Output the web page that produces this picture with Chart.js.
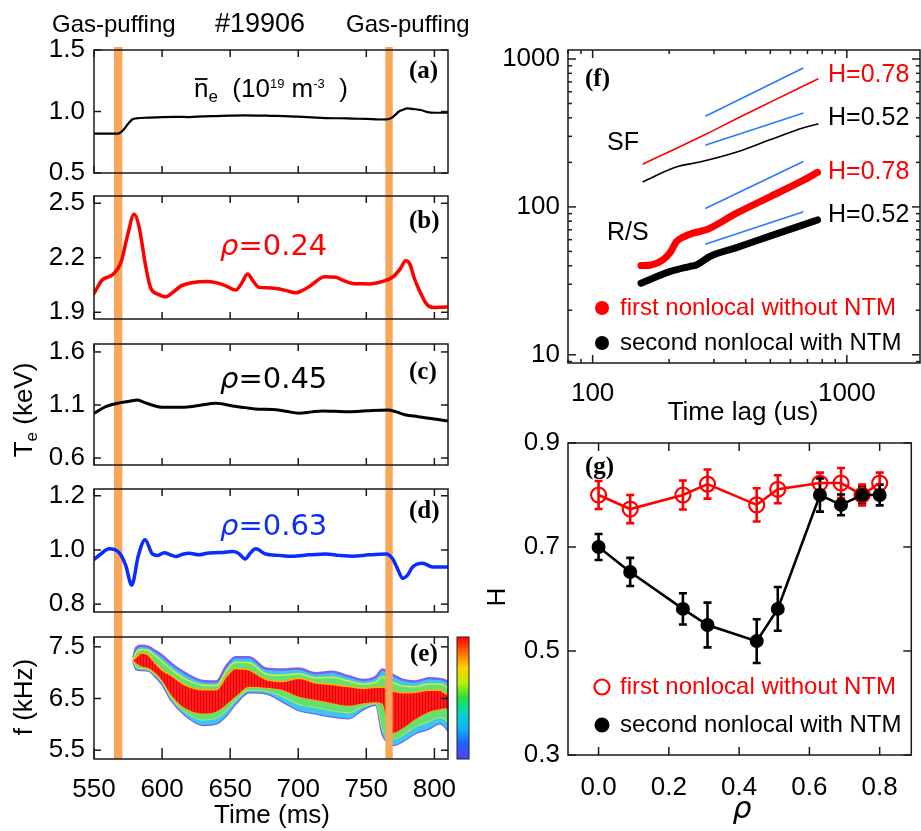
<!DOCTYPE html>
<html>
<head>
<meta charset="utf-8">
<title>#19906 nonlocal transport</title>
<script src="https://cdn.jsdelivr.net/npm/chart.js@4.4.1/dist/chart.umd.min.js"></script>
<style>
  html,body{margin:0;padding:0;background:#fff}
  #fig{position:relative;width:921px;height:831px;overflow:hidden;background:#fff}
  #fig canvas{position:absolute}
</style>
</head>
<body>
<div id="fig">
  <canvas id="pa" width="480" height="184" style="left:0;top:0"></canvas>
  <canvas id="pb" width="480" height="147" style="left:0;top:184px"></canvas>
  <canvas id="pc" width="480" height="146" style="left:0;top:331px"></canvas>
  <canvas id="pd" width="480" height="147" style="left:0;top:477px"></canvas>
  <canvas id="pe" width="480" height="207" style="left:0;top:624px"></canvas>
  <canvas id="pf" width="451" height="425" style="left:470px;top:0"></canvas>
  <canvas id="pg" width="451" height="406" style="left:470px;top:425px"></canvas>
</div>
<script>
const SANS = '"Liberation Sans", Arial, Helvetica, sans-serif';
const DEJAVU = '"DejaVu Sans", sans-serif';
const SERIF = '"Liberation Serif", "Times New Roman", serif';
const RED = '#ff0000', BLUE = '#0a2cff', FITBLUE = '#2a78ff', ORANGE = '#f7a65a';

// ---- left column: time traces, shot #19906 ----
const timeTicks = [550, 600, 650, 700, 750, 800];
const puffWindows = [[564.7, 570.8], [764.0, 769.4]];

// (a) line-averaged density
const neTime = [550,556,562,566,569,572,575,578,582,590,600,610,620,630,640,650,660,670,680,690,700,710,720,730,740,750,760,765,768,771,774,777,780,785,790,795,800,810];
const neVal  = [0.82,0.82,0.82,0.82,0.826,0.855,0.9,0.935,0.945,0.95,0.955,0.957,0.955,0.96,0.963,0.966,0.968,0.967,0.965,0.963,0.958,0.952,0.946,0.945,0.942,0.94,0.935,0.936,0.945,0.97,1.0,1.015,1.026,1.02,1.012,0.995,0.99,0.99];
const neTicks = [0.5, 1.0, 1.5];

// (b) Te at rho = 0.24
const bTime = [550,556,563.5,569.6,574.5,579.4,583,588,591.7,597,602.7,608,613.7,620,627,633,639.5,647,654,658.5,662.7,667,671.3,677,683.6,691,698.3,703,708,714,719,727.7,733,739.9,746,752,762,769.4,775,779,782,785,789,794,799,805,810];
const bVal  = [2.004,2.078,2.106,2.17,2.318,2.439,2.374,2.152,2.032,2.0,1.985,2.01,2.044,2.06,2.068,2.07,2.063,2.045,2.022,2.06,2.111,2.07,2.037,2.035,2.031,2.02,2.007,2.02,2.041,2.075,2.096,2.093,2.075,2.059,2.057,2.056,2.07,2.093,2.14,2.183,2.165,2.093,2.02,1.948,1.926,1.928,1.93];
const bTicks = [1.9, 2.2, 2.5];

// (c) Te at rho = 0.45
const cTime = [550,558.6,569.6,576,581.8,586,590.4,600.2,615,627,639.5,651.7,661,671.3,681,691,700.7,710,717.8,727,737.5,750,765.7,772,779,788,796,808.6,810];
const cVal  = [1.022,1.084,1.122,1.135,1.147,1.13,1.109,1.078,1.078,1.095,1.116,1.091,1.075,1.059,1.058,1.04,1.022,1.035,1.043,1.04,1.037,1.045,1.053,1.035,1.006,0.99,0.974,0.952,0.95];
const cTicks = [0.6, 1.1, 1.6];

// (d) Te at rho = 0.63
const dTime = [550,555,561,568.4,573.3,577.7,582.6,587.5,592.9,597,601.5,606,610,615,619.9,627,633,639.5,645,651.7,656,661,665,668.9,676,686,695.8,708,720.2,730,740,752,764.5,769.4,773,776.7,780,784,791.4,798.7,808.6,810];
const dVal  = [0.965,0.985,1.004,0.99,0.943,0.87,0.98,1.038,0.985,0.98,0.99,0.982,0.976,0.984,0.988,0.982,0.988,0.99,0.991,0.994,0.988,0.967,0.99,1.004,0.985,0.98,0.977,0.982,0.985,0.98,0.977,0.982,0.985,0.967,0.93,0.895,0.905,0.937,0.951,0.937,0.937,0.937];
const dTicks = [0.8, 1.0, 1.2];

// (e) mode frequency contour levels (kHz): outer edge, middle level, core
const eTime  = [579,581,585,590,595,600,607,617,630,640,647,654,664,676,688,700,713,725,737,748,757,762,766,770,777,786,796,804,808,810];
const outUp  = [7.30,7.48,7.52,7.50,7.42,7.33,7.17,6.99,6.84,6.83,7.12,7.30,7.30,7.08,7.06,7.08,6.99,7.02,6.93,6.86,6.92,7.06,7.00,6.95,6.86,6.83,6.89,6.88,6.85,6.82];
const outLo  = [7.22,7.07,7.05,7.04,6.93,6.78,6.46,6.18,5.99,6.02,6.17,6.40,6.62,6.60,6.45,6.28,6.21,6.15,6.12,6.30,6.38,5.80,5.65,5.60,5.68,5.83,5.92,6.02,5.95,5.88];
const midUp  = [7.28,7.40,7.45,7.43,7.33,7.22,7.06,6.88,6.76,6.75,7.03,7.20,7.19,6.98,6.95,6.98,6.90,6.91,6.84,6.78,6.82,6.92,6.86,6.81,6.74,6.73,6.78,6.78,6.74,6.70];
const midLo  = [7.23,7.12,7.08,7.06,6.97,6.83,6.51,6.24,6.09,6.13,6.27,6.47,6.67,6.65,6.55,6.40,6.33,6.27,6.23,6.36,6.41,5.90,5.76,5.72,5.80,5.96,6.06,6.14,6.10,6.05];
const coreUp = [7.26,7.30,7.38,7.34,7.18,7.05,6.94,6.76,6.67,6.67,6.92,7.08,7.05,6.87,6.83,6.89,6.80,6.77,6.73,6.70,6.72,6.72,6.67,6.64,6.61,6.62,6.66,6.66,6.60,6.57];
const coreLo = [7.24,7.18,7.12,7.09,7.00,6.85,6.56,6.31,6.21,6.25,6.38,6.54,6.73,6.71,6.67,6.54,6.47,6.41,6.36,6.41,6.43,6.40,5.95,5.84,5.93,6.10,6.24,6.29,6.31,6.30];
const eTicks = [5.5, 6.5, 7.5];

// ---- (f) structure function and R/S vs time lag ----
const lagTicks = [100, 1000];
const lagMinor = [80, 90, 200, 300, 400, 500, 600, 700, 800, 900];
const fTicks = [10, 100, 1000];
const fMinor = [9, 20, 30, 40, 50, 60, 70, 80, 90, 200, 300, 400, 500, 600, 700, 800, 900];
const sfRedLag = [158, 201, 280, 368, 498, 769];
const sfRedVal = [195, 237, 311, 394, 509, 733];
const sfBlackLag = [158, 213, 264, 369, 498, 671, 769];
const sfBlackVal = [148, 186, 201, 235, 284, 342, 363];
const rsRedLag = [155, 170, 189, 201, 214, 227, 248, 280, 368, 498, 673, 767];
const rsRedVal = [40.1, 40.5, 43.9, 48.6, 58.3, 62.4, 66.4, 70.0, 90.6, 117, 151, 171];
const rsBlackLag = [155, 201, 240, 256, 289, 368, 498, 673, 767];
const rsBlackVal = [30.5, 36.5, 39.5, 40.5, 46.2, 53, 63.4, 75.5, 81.6];
const fitLag = [279, 671];
const fitSfRed = [412, 865];
const fitSfBlack = [262, 430];
const fitRsRed = [98, 202];
const fitRsBlack = [56.2, 92.5];

// ---- (g) Hurst exponent profile ----
const rhoTicks = [0.0, 0.2, 0.4, 0.6, 0.8];
const hTicks = [0.3, 0.5, 0.7, 0.9];
const rhoRed = [0.0, 0.09, 0.24, 0.31, 0.45, 0.51, 0.63, 0.69, 0.75, 0.80];
const hRed = [0.80, 0.773, 0.80, 0.821, 0.781, 0.811, 0.823, 0.823, 0.80, 0.823];
const hRedErr = [0.027, 0.027, 0.028, 0.028, 0.032, 0.027, 0.02, 0.029, 0.02, 0.02];
const rhoBlack = [0.0, 0.09, 0.24, 0.31, 0.45, 0.51, 0.63, 0.69, 0.75, 0.80];
const hBlack = [0.70, 0.652, 0.581, 0.55, 0.519, 0.581, 0.80, 0.781, 0.80, 0.80];
const hBlackErr = [0.025, 0.027, 0.03, 0.043, 0.042, 0.042, 0.032, 0.02, 0.015, 0.02];

const xy = (xs, ys) => xs.map((x, i) => ({ x, y: ys[i] }));
const zeroPad = s => { s.paddingTop = s.paddingBottom = s.paddingLeft = s.paddingRight = 0; };
const setTicks = vals => s => { s.ticks = vals.map(v => ({ value: v })); };

// rich text: list of parts drawn left to right, optional rotation about (x,y)
function text(ctx, it) {
  const parts = it.parts || [{ t: it.t }];
  ctx.save();
  ctx.translate(it.x, it.y);
  if (it.rot) ctx.rotate(it.rot);
  ctx.textBaseline = 'middle';
  ctx.textAlign = 'left';
  let w = 0;
  parts.forEach(p => { ctx.font = p.font || it.font; p.w = ctx.measureText(p.t).width; w += p.w; });
  let cx = it.align === 'center' ? -w / 2 : it.align === 'right' ? -w : 0;
  parts.forEach(p => {
    ctx.font = p.font || it.font;
    ctx.fillStyle = p.color || it.color || '#000';
    ctx.fillText(p.t, cx, p.dy || 0);
    if (p.bar) {
      ctx.strokeStyle = ctx.fillStyle; ctx.lineWidth = 1.8;
      ctx.beginPath(); ctx.moveTo(cx + 1, p.bar); ctx.lineTo(cx + p.w - 1, p.bar); ctx.stroke();
    }
    cx += p.w;
  });
  ctx.restore();
}

function dot(ctx, x, y, r, color, open) {
  ctx.save();
  ctx.beginPath(); ctx.arc(x, y, r, 0, Math.PI * 2);
  if (open) { ctx.strokeStyle = color; ctx.lineWidth = 2.2; ctx.stroke(); }
  else { ctx.fillStyle = color; ctx.fill(); }
  ctx.restore();
}

// box round the plot area with inward ticks on all four sides
const frame = o => ({
  id: 'frame',
  afterDraw(chart) {
    const { ctx, chartArea: a, scales: { x, y } } = chart;
    ctx.save();
    ctx.strokeStyle = '#1a1a1a';
    ctx.lineWidth = 1.5;
    const seg = (x0, y0, x1, y1) => { ctx.beginPath(); ctx.moveTo(x0, y0); ctx.lineTo(x1, y1); ctx.stroke(); };
    const xs = (vals, lb, lt) => vals.forEach(v => {
      const p = x.getPixelForValue(v);
      if (p < a.left - 1 || p > a.right + 1) return;
      seg(p, a.bottom, p, a.bottom - lb); seg(p, a.top, p, a.top + lt);
    });
    const ys = (vals, l) => vals.forEach(v => {
      const p = y.getPixelForValue(v);
      if (p < a.top - 1 || p > a.bottom + 1) return;
      seg(a.left, p, a.left + l, p); seg(a.right, p, a.right - l, p);
    });
    xs(o.xTicks, o.lenB || 7, o.lenT || 7);
    ys(o.yTicks, o.len || 7);
    if (o.xMinor) xs(o.xMinor, 4, 4);
    if (o.yMinor) ys(o.yMinor, 4);
    ctx.strokeRect(a.left, a.top, a.right - a.left, a.bottom - a.top);
    ctx.restore();
  }
});

// gas-puffing windows, drawn through the panel and the gaps between panels
const puff = o => {
  const draw = chart => {
    const { ctx, chartArea: a, scales: { x } } = chart;
    const top = o.top || 0;
    const bottom = o.toArea ? a.bottom : chart.height;
    ctx.save();
    ctx.fillStyle = ORANGE;
    puffWindows.forEach(([t0, t1]) => {
      const x0 = x.getPixelForValue(t0), x1 = x.getPixelForValue(t1);
      ctx.fillRect(x0, top, x1 - x0, bottom - top);
    });
    ctx.restore();
  };
  return {
    id: 'puff',
    beforeDatasetsDraw(chart) { if (!o.onTop) draw(chart); },
    afterDatasetsDraw(chart) { if (o.onTop) draw(chart); }
  };
};

const deco = fn => ({ id: 'deco', afterDraw(chart) { fn(chart.ctx, chart); } });

const tickFont = { family: SANS, size: 26 };
const panelTag = (ctx, s, x, y) => text(ctx, { t: s, x, y, font: 'bold 25px ' + SERIF });
const rhoLabel = (ctx, val, x, y, color) => text(ctx, {
  x, y, color, parts: [
    { t: 'ρ', font: 'oblique 29px ' + DEJAVU },
    { t: '=' + val, font: '29px ' + DEJAVU }
  ]
});

function timePanel(id, cfg) {
  return new Chart(document.getElementById(id), {
    type: 'line',
    data: { datasets: cfg.datasets },
    options: {
      responsive: false, animation: false, devicePixelRatio: 1,
      layout: { padding: { top: cfg.top, bottom: cfg.bottom || 0, left: 0, right: 32 } },
      plugins: { legend: { display: false }, tooltip: { enabled: false } },
      elements: {
        point: { radius: 0 },
        line: { cubicInterpolationMode: 'monotone', borderCapStyle: 'round', borderJoinStyle: 'round' }
      },
      scales: {
        x: {
          type: 'linear', min: 550, max: 810,
          afterBuildTicks: setTicks(timeTicks),
          afterFit: s => { s.height = cfg.xAxisH || 0; zeroPad(s); },
          ticks: { display: !!cfg.xAxisH, font: tickFont, color: '#000', padding: 15, maxRotation: 0, autoSkip: false },
          grid: { display: false, drawTicks: false }, border: { display: false }
        },
        y: {
          type: 'linear', min: cfg.yMin, max: cfg.yMax,
          afterBuildTicks: setTicks(cfg.yTicks),
          afterFit: s => { s.width = 94; zeroPad(s); },
          ticks: { font: tickFont, color: '#000', padding: 9, callback: v => v.toFixed(1) },
          grid: { display: false, drawTicks: false }, border: { display: false }
        }
      }
    },
    plugins: [puff(cfg.puff), frame({ xTicks: timeTicks, yTicks: cfg.yTicks, lenB: cfg.lenB, len: 7 }), deco(cfg.deco)]
  });
}

// (a)
timePanel('pa', {
  top: 50, bottom: 11, yMin: 0.5, yMax: 1.5, yTicks: neTicks,
  puff: { top: 47 },
  datasets: [{ data: xy(neTime, neVal), borderColor: '#000', borderWidth: 2.2 }],
  deco: ctx => {
    text(ctx, { t: 'Gas-puffing', x: 52, y: 25, font: '24px ' + SANS });
    text(ctx, { t: '#19906', x: 260, y: 25, align: 'center', font: '27px ' + SANS });
    text(ctx, { t: 'Gas-puffing', x: 346, y: 25, font: '24px ' + SANS });
    text(ctx, {
      x: 194, y: 90, font: '26px ' + SANS, parts: [
        { t: 'n', bar: -11 },
        { t: 'e', font: '17px ' + SANS, dy: 7 },
        { t: '  (10' },
        { t: '19', font: '13px ' + SANS, dy: -6 },
        { t: ' m' },
        { t: '-3', font: '13px ' + SANS, dy: -6 },
        { t: '  )' }
      ]
    });
    panelTag(ctx, '(a)', 409, 72);
  }
});

// (b)
timePanel('pb', {
  top: 12, bottom: 12, yMin: 1.863, yMax: 2.54, yTicks: bTicks,
  puff: {},
  datasets: [{ data: xy(bTime, bVal), borderColor: RED, borderWidth: 3.5 }],
  deco: ctx => { rhoLabel(ctx, '0.24', 220, 63, RED); panelTag(ctx, '(b)', 409, 38); }
});

// (c)
timePanel('pc', {
  top: 13, bottom: 12, yMin: 0.534, yMax: 1.675, yTicks: cTicks,
  puff: {},
  datasets: [{ data: xy(cTime, cVal), borderColor: '#000', borderWidth: 3 }],
  deco: ctx => {
    rhoLabel(ctx, '0.45', 220, 49, '#000');
    panelTag(ctx, '(c)', 409, 42);
    text(ctx, {
      x: 25, y: 79, rot: -Math.PI / 2, align: 'center', font: '26px ' + SANS, parts: [
        { t: 'T' }, { t: 'e', font: '17px ' + SANS, dy: 7 }, { t: ' (keV)' }
      ]
    });
  }
});

// (d)
timePanel('pd', {
  top: 12, bottom: 12, yMin: 0.771, yMax: 1.225, yTicks: dTicks,
  puff: {},
  datasets: [{ data: xy(dTime, dVal), borderColor: BLUE, borderWidth: 3.5 }],
  deco: ctx => { rhoLabel(ctx, '0.63', 220, 50, BLUE); panelTag(ctx, '(d)', 409, 35); }
});

// (e) spectrogram contour, red core hatched with thin vertical stripes
function stripes() {
  const c = document.createElement('canvas');
  c.width = 3; c.height = 4;
  const g = c.getContext('2d');
  g.fillStyle = '#ff1e1e'; g.fillRect(0, 0, 3, 4);
  g.fillStyle = '#e80000'; g.fillRect(2, 0, 1, 4);
  return g.createPattern(c, 'repeat');
}
const band = (up, lo, fillColor, edge, edgeW) => [
  { data: xy(eTime, up), borderColor: edge, borderWidth: edgeW, fill: '+1', backgroundColor: fillColor },
  { data: xy(eTime, lo), borderColor: edge, borderWidth: edgeW, fill: false }
];
const cbColors = ['#ff0000', '#ff6a00', '#ffd000', '#b8f000', '#20e040', '#00d8c0', '#10b0ff', '#2060ff', '#5a3cff'];

timePanel('pe', {
  top: 13, bottom: 0, xAxisH: 72, lenB: 11, yMin: 5.33, yMax: 7.69, yTicks: eTicks,
  puff: { onTop: true, toArea: true },
  datasets: [
    ...band(coreUp, coreLo, stripes(), '#ffb000', 1.5),
    ...band(midUp, midLo, '#62e070', '#d6ee3a', 1.5),
    ...band(outUp, outLo, '#3ec6f2', '#7a62f0', 2.5)
  ],
  deco: (ctx, chart) => {
    const a = chart.chartArea;
    const g = ctx.createLinearGradient(0, a.top, 0, a.bottom);
    cbColors.forEach((c, i) => g.addColorStop(i / (cbColors.length - 1), c));
    ctx.save();
    ctx.fillStyle = g;
    ctx.fillRect(a.right + 9, a.top, 12, a.bottom - a.top);
    ctx.strokeStyle = '#222'; ctx.lineWidth = 1;
    ctx.strokeRect(a.right + 9, a.top, 12, a.bottom - a.top);
    ctx.restore();
    panelTag(ctx, '(e)', 410, 31);
    text(ctx, { x: 25, y: 73, rot: -Math.PI / 2, align: 'center', t: 'f (kHz)', font: '26px ' + SANS });
    text(ctx, { x: 272, y: 192, align: 'center', t: 'Time (ms)', font: '26px ' + SANS });
  }
});

// (f) log-log scaling of SF and R/S
const thin = (xs, ys, color) => ({ data: xy(xs, ys), borderColor: color, borderWidth: 1.6 });
const thick = (xs, ys, color) => ({ data: xy(xs, ys), borderColor: color, borderWidth: 7 });
new Chart(document.getElementById('pf'), {
  type: 'line',
  data: {
    datasets: [
      thin(fitLag, fitSfRed, FITBLUE), thin(fitLag, fitSfBlack, FITBLUE),
      thin(fitLag, fitRsRed, FITBLUE), thin(fitLag, fitRsBlack, FITBLUE),
      thin(sfRedLag, sfRedVal, RED), thin(sfBlackLag, sfBlackVal, '#000'),
      thick(rsRedLag, rsRedVal, RED), thick(rsBlackLag, rsBlackVal, '#000')
    ]
  },
  options: {
    responsive: false, animation: false, devicePixelRatio: 1,
    layout: { padding: { top: 50, right: 1, left: 0, bottom: 0 } },
    plugins: { legend: { display: false }, tooltip: { enabled: false } },
    elements: { point: { radius: 0 }, line: { cubicInterpolationMode: 'monotone', borderCapStyle: 'round', borderJoinStyle: 'round' } },
    scales: {
      x: {
        type: 'logarithmic', min: 80, max: 1940,
        afterBuildTicks: setTicks(lagTicks),
        afterFit: s => { s.height = 62; zeroPad(s); },
        ticks: { font: tickFont, color: '#000', padding: 15, maxRotation: 0, autoSkip: false, callback: v => String(v) },
        grid: { display: false, drawTicks: false }, border: { display: false }
      },
      y: {
        type: 'logarithmic', min: 8.8, max: 1150,
        afterBuildTicks: setTicks(fTicks),
        afterFit: s => { s.width = 98; zeroPad(s); },
        ticks: { font: tickFont, color: '#000', padding: 8, callback: v => String(v) },
        grid: { display: false, drawTicks: false }, border: { display: false }
      }
    }
  },
  plugins: [frame({ xTicks: lagTicks, yTicks: fTicks, xMinor: lagMinor, yMinor: fMinor, len: 8, lenB: 8, lenT: 8 }), deco(ctx => {
    panelTag(ctx, '(f)', 115, 80);
    const f25 = '25px ' + SANS;
    text(ctx, { t: 'SF', x: 137, y: 143, font: f25 });
    text(ctx, { t: 'R/S', x: 137, y: 233, font: f25 });
    text(ctx, { t: 'H=0.78', x: 358, y: 75, font: f25, color: RED });
    text(ctx, { t: 'H=0.52', x: 358, y: 118, font: f25 });
    text(ctx, { t: 'H=0.78', x: 358, y: 172, font: f25, color: RED });
    text(ctx, { t: 'H=0.52', x: 358, y: 215, font: f25 });
    dot(ctx, 132, 308, 7, RED);
    dot(ctx, 132, 343, 7, '#000');
    text(ctx, { t: 'first nonlocal without NTM', x: 150, y: 308, font: '24px ' + SANS, color: RED });
    text(ctx, { t: 'second nonlocal with NTM', x: 150, y: 343, font: '24px ' + SANS });
    text(ctx, { t: 'Time lag (us)', x: 273, y: 413, align: 'center', font: '26px ' + SANS });
  })]
});

// (g) H vs rho with error bars
const errorBars = sets => ({
  id: 'errbars',
  beforeDatasetsDraw(chart) {
    const { ctx, scales: { x, y } } = chart;
    ctx.save();
    ctx.lineWidth = 2.6;
    sets.forEach(([xs, ys, es, color]) => {
      ctx.strokeStyle = color;
      xs.forEach((v, i) => {
        const px = x.getPixelForValue(v);
        const y0 = y.getPixelForValue(ys[i] - es[i]), y1 = y.getPixelForValue(ys[i] + es[i]);
        ctx.beginPath();
        ctx.moveTo(px, y0); ctx.lineTo(px, y1);
        ctx.moveTo(px - 4, y0); ctx.lineTo(px + 4, y0);
        ctx.moveTo(px - 4, y1); ctx.lineTo(px + 4, y1);
        ctx.stroke();
      });
    });
    ctx.restore();
  }
});

new Chart(document.getElementById('pg'), {
  type: 'line',
  data: {
    datasets: [
      { data: xy(rhoBlack, hBlack), borderColor: '#000', borderWidth: 2.6, pointRadius: 7, pointBackgroundColor: '#000', pointBorderColor: '#000', pointBorderWidth: 0 },
      { data: xy(rhoRed, hRed), borderColor: RED, borderWidth: 2.6, pointRadius: 7.5, pointBackgroundColor: 'rgba(0,0,0,0)', pointBorderColor: RED, pointBorderWidth: 2.2 }
    ]
  },
  options: {
    responsive: false, animation: false, devicePixelRatio: 1,
    layout: { padding: { top: 18, right: 3, left: 0, bottom: 0 } },
    plugins: { legend: { display: false }, tooltip: { enabled: false } },
    elements: { line: { tension: 0 } },
    scales: {
      x: {
        type: 'linear', min: -0.087, max: 0.89,
        afterBuildTicks: setTicks(rhoTicks),
        afterFit: s => { s.height = 76; zeroPad(s); },
        ticks: { font: tickFont, color: '#000', padding: 17, maxRotation: 0, autoSkip: false, callback: v => v.toFixed(1) },
        grid: { display: false, drawTicks: false }, border: { display: false }
      },
      y: {
        type: 'linear', min: 0.3, max: 0.9,
        afterBuildTicks: setTicks(hTicks),
        afterFit: s => { s.width = 98; zeroPad(s); },
        ticks: { font: tickFont, color: '#000', padding: 8, callback: v => v.toFixed(1) },
        grid: { display: false, drawTicks: false }, border: { display: false }
      }
    }
  },
  plugins: [
    errorBars([[rhoRed, hRed, hRedErr, RED], [rhoBlack, hBlack, hBlackErr, '#000']]),
    frame({ xTicks: rhoTicks, yTicks: hTicks, len: 8, lenB: 8, lenT: 8 }),
    deco(ctx => {
      panelTag(ctx, '(g)', 115, 43);
      dot(ctx, 132, 262, 7.5, RED, true);
      dot(ctx, 132, 300, 7.5, '#000');
      text(ctx, { t: 'first nonlocal without NTM', x: 150, y: 262, font: '24px ' + SANS, color: RED });
      text(ctx, { t: 'second nonlocal with NTM', x: 150, y: 300, font: '24px ' + SANS });
      text(ctx, { t: 'H', x: 28, y: 172, rot: -Math.PI / 2, align: 'center', font: '26px ' + SANS });
      text(ctx, { t: 'ρ', x: 272, y: 385, align: 'center', font: 'oblique 30px ' + DEJAVU });
    })
  ]
});
</script>
</body>
</html>
